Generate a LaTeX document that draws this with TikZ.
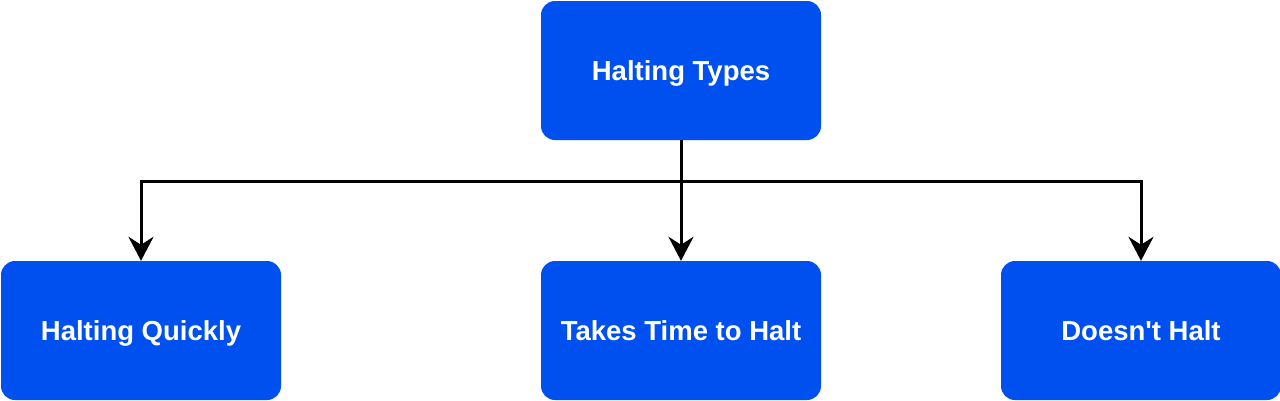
\documentclass[tikz,border=0pt]{standalone}
\usepackage{fontspec}
\setmainfont{Liberation Sans}[Ligatures=TeXOff]
\usetikzlibrary{arrows.meta}
\definecolor{boxblue}{HTML}{0050EF}
\begin{document}
\begin{tikzpicture}[x=1pt,y=-1pt,
  box/.style={draw=none,fill=boxblue,rounded corners=14pt,minimum width=280pt,minimum height=139pt,
    text=white,font=\bfseries\fontsize{27.5}{33}\selectfont,text height=19.8pt,text depth=0pt,anchor=center},
  conn/.style={line width=3pt,-{Stealth[length=24pt,width=25pt,inset=8pt]}}]
\useasboundingbox (0,0) rectangle (1280,400);
\node[box] (top) at (681,70.5) {Halting Types};
\node[box] (hq) at (141,330.5) {Halting Quickly};
\node[box] (tt) at (681,330.5) {Takes Time to Halt};
\node[box] (dh) at (1141,330.5) {Doesn't Halt};
\coordinate (j) at (681,181);
\draw[line width=3pt] (top.south) -- (j);
\draw[conn] (j) -| (hq.north);
\draw[conn] (j) -- (tt.north);
\draw[conn] (j) -| (dh.north);
\end{tikzpicture}
\end{document}
